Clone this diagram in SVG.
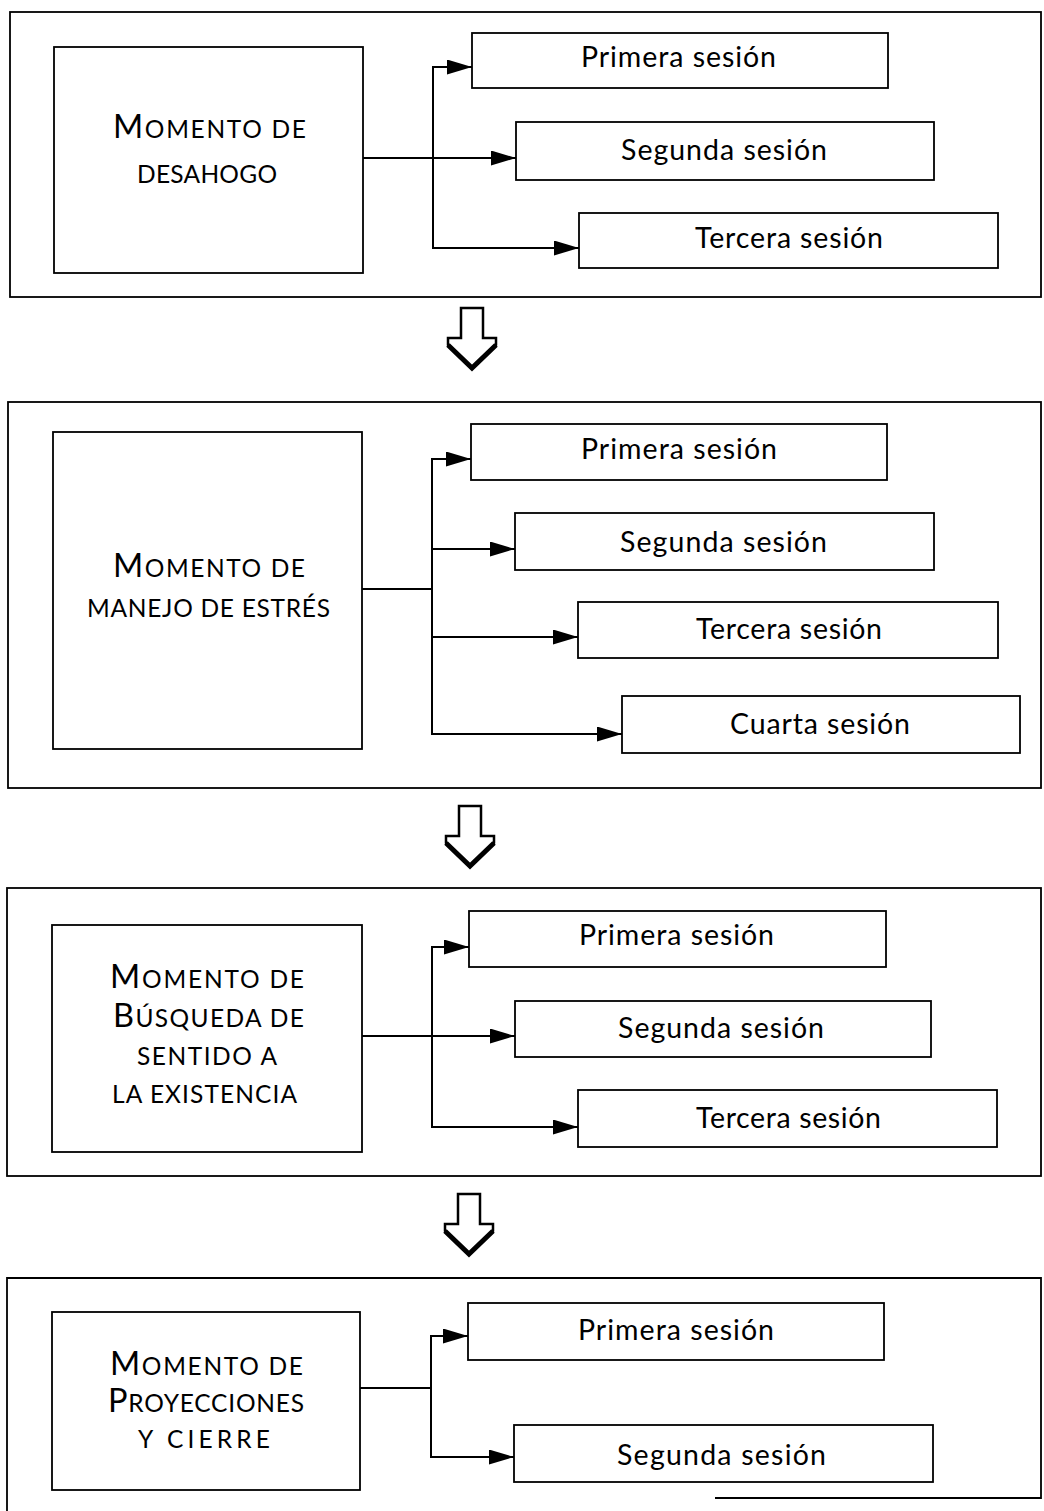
<svg xmlns="http://www.w3.org/2000/svg" width="1044" height="1511" viewBox="0 0 1044 1511">
<style>
.panel{fill:none;stroke:#000;stroke-width:1.8}
.box{fill:#fff;stroke:#000;stroke-width:1.8}
.lbl{font-family:Lato,"Liberation Sans",sans-serif;font-size:28.5px;fill:#000}
.mt{font-family:Lato,"Liberation Sans",sans-serif;font-size:24.5px;fill:#000}
.big{font-size:32.5px}
.con{fill:none;stroke:#000;stroke-width:2}
.arr{marker-end:url(#ah)}
.fat{fill:#fff;stroke:#000;stroke-width:2.5;stroke-linejoin:miter}
</style>
<defs>
<marker id="ah" markerUnits="userSpaceOnUse" markerWidth="25" markerHeight="15" refX="25" refY="7.5" orient="auto">
<path d="M0,0 L25,7.5 L0,15 Z" fill="#000"/>
</marker>
<g id="bigarrow">
<path class="fat" d="M-11,0 L11,0 L11,30 L24,30 L24,37 L0,60 L-24,37 L-24,30 L-11,30 Z"/>
<path d="M-24,37 L0,60 L24,37" fill="none" stroke="#000" stroke-width="5"/>
</g>
</defs>

<g id="panel1">
<rect class="panel" x="10" y="12" width="1031" height="285"/>
<g id="p1-main"><rect class="box" x="54" y="47" width="309" height="226"/>
<text class="mt" x="113" y="138" textLength="193" lengthAdjust="spacing"><tspan class="big">M</tspan>OMENTO DE</text>
<text class="mt" x="137" y="183" textLength="140" lengthAdjust="spacing">DESAHOGO</text></g>
<g id="p1-s1"><rect class="box" x="472" y="33" width="416" height="55"/><text class="lbl" x="581" y="67" textLength="195" lengthAdjust="spacing">Primera sesión</text></g>
<g id="p1-s2"><rect class="box" x="516" y="122" width="418" height="58"/><text class="lbl" x="621" y="160" textLength="206" lengthAdjust="spacing">Segunda sesión</text></g>
<g id="p1-s3"><rect class="box" x="579" y="213" width="419" height="55"/><text class="lbl" x="695" y="248" textLength="188" lengthAdjust="spacing">Tercera sesión</text></g>
</g>

<g id="panel2">
<rect class="panel" x="8" y="402" width="1033" height="386"/>
<g id="p2-main"><rect class="box" x="53" y="432" width="309" height="317"/>
<text class="mt" x="113" y="577" textLength="192" lengthAdjust="spacing"><tspan class="big">M</tspan>OMENTO DE</text>
<text class="mt" x="87" y="617" textLength="243" lengthAdjust="spacing">MANEJO DE ESTRÉS</text></g>
<g id="p2-s1"><rect class="box" x="471" y="424" width="416" height="56"/><text class="lbl" x="581" y="459" textLength="196" lengthAdjust="spacing">Primera sesión</text></g>
<g id="p2-s2"><rect class="box" x="515" y="513" width="419" height="57"/><text class="lbl" x="620" y="552" textLength="207" lengthAdjust="spacing">Segunda sesión</text></g>
<g id="p2-s3"><rect class="box" x="578" y="602" width="420" height="56"/><text class="lbl" x="696" y="639" textLength="186" lengthAdjust="spacing">Tercera sesión</text></g>
<g id="p2-s4"><rect class="box" x="622" y="696" width="398" height="57"/><text class="lbl" x="730" y="734" textLength="180" lengthAdjust="spacing">Cuarta sesión</text></g>
</g>

<g id="panel3">
<rect class="panel" x="7" y="888" width="1034" height="288"/>
<g id="p3-main"><rect class="box" x="52" y="925" width="310" height="227"/>
<text class="mt" x="110" y="988" textLength="194" lengthAdjust="spacing"><tspan class="big">M</tspan>OMENTO DE</text>
<text class="mt" x="113" y="1027" textLength="191" lengthAdjust="spacing"><tspan class="big">B</tspan>ÚSQUEDA DE</text>
<text class="mt" x="137" y="1065" textLength="140" lengthAdjust="spacing">SENTIDO A</text>
<text class="mt" x="112" y="1103" textLength="185" lengthAdjust="spacing">LA EXISTENCIA</text></g>
<g id="p3-s1"><rect class="box" x="469" y="911" width="417" height="56"/><text class="lbl" x="579" y="945" textLength="195" lengthAdjust="spacing">Primera sesión</text></g>
<g id="p3-s2"><rect class="box" x="515" y="1001" width="416" height="56"/><text class="lbl" x="618" y="1038" textLength="206" lengthAdjust="spacing">Segunda sesión</text></g>
<g id="p3-s3"><rect class="box" x="578" y="1090" width="419" height="57"/><text class="lbl" x="696" y="1128" textLength="185" lengthAdjust="spacing">Tercera sesión</text></g>
</g>

<g id="panel4">
<path class="panel" d="M7,1511 L7,1278 L1041,1278 L1041,1498 L715,1498"/>
<g id="p4-main"><rect class="box" x="52" y="1312" width="308" height="178"/>
<text class="mt" x="110" y="1375" textLength="193" lengthAdjust="spacing"><tspan class="big">M</tspan>OMENTO DE</text>
<text class="mt" x="108" y="1412" textLength="196" lengthAdjust="spacing"><tspan class="big">P</tspan>ROYECCIONES</text>
<text class="mt" x="138" y="1448" textLength="132" lengthAdjust="spacing">Y CIERRE</text></g>
<g id="p4-s1"><rect class="box" x="468" y="1303" width="416" height="57"/><text class="lbl" x="578" y="1340" textLength="196" lengthAdjust="spacing">Primera sesión</text></g>
<g id="p4-s2"><rect class="box" x="514" y="1425" width="419" height="57"/><text class="lbl" x="617" y="1465" textLength="209" lengthAdjust="spacing">Segunda sesión</text></g>
</g>

<g id="connectors">
<path class="con arr" d="M363,158 L516,158" stroke-width="2.5"/>
<path class="con arr" d="M433,158 L433,67 L472,67"/>
<path class="con arr" d="M433,158 L433,248 L579,248"/>

<path class="con" d="M362,589 L432,589"/>
<path class="con arr" d="M432,589 L432,459 L471,459"/>
<path class="con arr" d="M432,549 L515,549"/>
<path class="con arr" d="M432,637 L578,637"/>
<path class="con arr" d="M432,589 L432,734 L622,734"/>

<path class="con arr" d="M362,1036 L515,1036"/>
<path class="con arr" d="M432,1036 L432,947 L469,947"/>
<path class="con arr" d="M432,1036 L432,1127 L578,1127"/>

<path class="con" d="M360,1388 L431,1388"/>
<path class="con arr" d="M431,1388 L431,1336 L468,1336"/>
<path class="con arr" d="M431,1388 L431,1457 L514,1457"/>

<use href="#bigarrow" transform="translate(472,308)"/>
<use href="#bigarrow" transform="translate(470,806)"/>
<use href="#bigarrow" transform="translate(469,1194)"/>
</g>
</svg>
